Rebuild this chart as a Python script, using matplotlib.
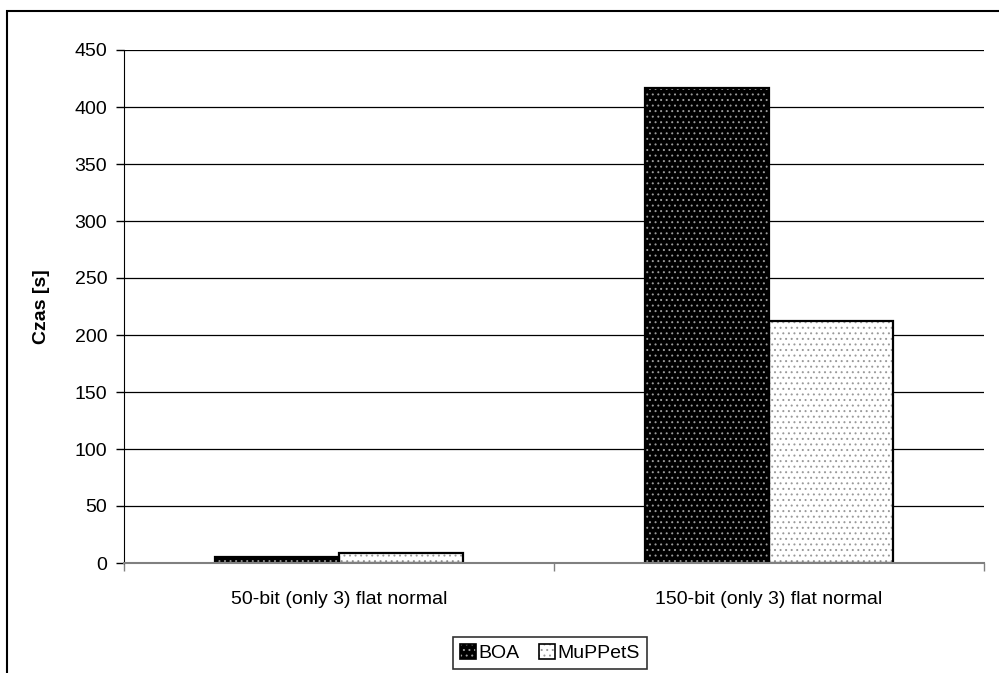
import matplotlib.pyplot as plt
import matplotlib.patches as mpatches
from matplotlib.legend_handler import HandlerTuple
import numpy as np

# data
categories = ['50-bit (only 3) flat normal', '150-bit (only 3) flat normal']
series_names = ['BOA', 'MuPPetS']
boa_times = [5, 417]
muppets_times = [9, 212]
y_ticks = [0, 50, 100, 150, 200, 250, 300, 350, 400, 450]

plt.rcParams['font.family'] = ['Liberation Sans', 'DejaVu Sans']
plt.rcParams['hatch.linewidth'] = 0.7

fig = plt.figure(figsize=(9.99, 6.73), dpi=100)
ax = fig.add_axes([124 / 999, 1 - 563 / 673, 860 / 999, 513 / 673])

x = np.arange(len(categories))
width = 0.288

styles = [
    {'face': 'black', 'hatch_col': '#9a9a9a'},
    {'face': 'white', 'hatch_col': '#9a9a9a'},
]

handles = []
for i, (name, vals) in enumerate(zip(series_names, [boa_times, muppets_times])):
    pos = x + (i - 0.5) * width
    st = styles[i]
    ax.bar(pos, vals, width, color=st['face'], edgecolor='none', zorder=3)
    ax.bar(pos, vals, width, color='none', edgecolor=st['hatch_col'],
           hatch='...', linewidth=0, zorder=4)
    ax.bar(pos, vals, width, color='none', edgecolor='black',
           linewidth=1.6, zorder=5)
    # legend swatch built the same way
    base = mpatches.Patch(facecolor=st['face'], edgecolor='none')
    dots = mpatches.Patch(facecolor='none', edgecolor=st['hatch_col'], hatch='...', linewidth=0)
    edge = mpatches.Patch(facecolor='none', edgecolor='black', linewidth=1.2)
    handles.append((base, dots, edge))

# gridlines
ax.set_ylim(0, 450)
ax.set_yticks(y_ticks)
ax.yaxis.grid(True, color='black', linewidth=0.9, zorder=0)
ax.set_axisbelow(True)

ax.set_xlim(-0.5, len(categories) - 0.5)
ax.set_xticks(x)
ax.set_xticklabels(categories)
ax.set_xticks(np.arange(len(categories) + 1) - 0.5, minor=True)
ax.tick_params(axis='x', which='major', length=0, pad=20, labelsize=14)
ax.tick_params(axis='x', which='minor', length=6, width=1, color='#808080')
ax.tick_params(axis='y', length=6, width=1, pad=6, labelsize=14)

for s in ['top', 'right']:
    ax.spines[s].set_visible(False)
ax.spines['left'].set_color('black')
ax.spines['bottom'].set_color('#808080')
ax.spines['bottom'].set_linewidth(1.5)
ax.spines['bottom'].set_zorder(6)

ax.set_ylabel('Czas [s]', fontsize=14, fontweight='bold', labelpad=18)

leg = fig.legend(handles=handles, labels=series_names, loc='center',
                 bbox_to_anchor=(550 / 999, 1 - 653 / 673),
                 handler_map={tuple: HandlerTuple(ndivide=1, pad=0)},
                 ncol=2, fontsize=14, frameon=True, fancybox=False,
                 handlelength=0.8, handleheight=0.8, handletextpad=0.15,
                 columnspacing=1.0, borderpad=0.35, borderaxespad=0)
leg.get_frame().set_edgecolor('black')
leg.get_frame().set_linewidth(1.2)

# outer chart border (runs off the right and bottom)
fig.add_artist(mpatches.Rectangle((7 / 999, -0.2), 1.2, 1.2 - 11 / 673,
                                  transform=fig.transFigure, fill=False,
                                  edgecolor='black', linewidth=1.5, clip_on=False))

fig.savefig('out.png', dpi=100, facecolor='white')
